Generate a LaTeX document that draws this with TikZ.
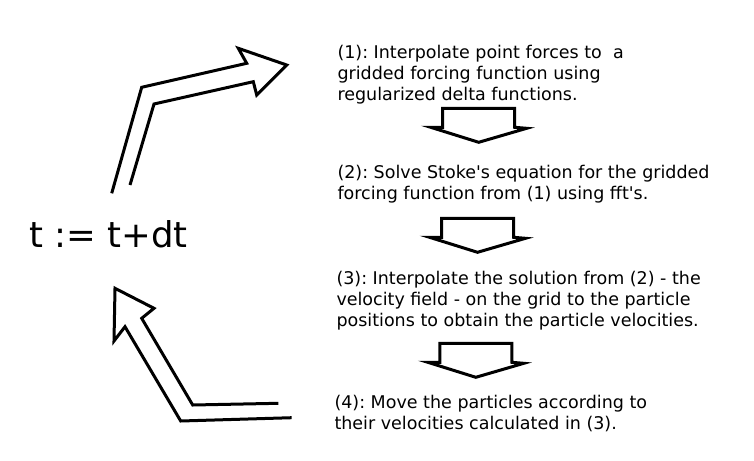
\documentclass[tikz,border=0pt]{standalone}
\usepackage{fontspec}
\setmainfont{DejaVu Sans}
\usetikzlibrary{positioning}
\frenchspacing

\begin{document}
\begin{tikzpicture}[x=1pt, y=-1pt, line width=3pt,
    stepnote/.style = {anchor=north west, inner sep=0pt, align=left, font=\fontsize{17.5}{20.8}\selectfont},
    downarrow/.pic = {\draw (-36,19) -- (-36,0) -- (36,0) -- (36,19) -- (48,20) -- (0,34) -- (-48,19) -- cycle;}]
    \useasboundingbox (0,0) rectangle (754,460);
    \node (time) [anchor=base west, inner sep=0pt, font=\fontsize{35.5}{42}\selectfont] at (28,247.3) {t := t+dt};
    \node[stepnote] (one) at (336,44) {(1): Interpolate point forces to \ a\\gridded forcing function using\\regularized delta functions.};
    \node[stepnote] (two) at (336,164) {(2): Solve Stoke\textquotesingle s equation for the gridded\\forcing function from (1) using fft\textquotesingle s.};
    \node[stepnote] (three) at (335,270) {(3): Interpolate the solution from (2) - the\\velocity field - on the grid to the particle\\positions to obtain the particle velocities.};
    \node[stepnote] (four) at (333,393.4) {(4): Move the particles according to\\their velocities calculated in (3).};
    \pic at (478.7,108.3) {downarrow};
    \pic at (477.5,218.3) {downarrow};
    \pic at (475.8,343.3) {downarrow};
    \draw (111.7,193.3) -- (141.7,87.3) -- (246.7,63.3) -- (238.3,48.3) -- (286.7,65) -- (256.7,95) -- (253.3,81.7) -- (154,104) -- (130,185);
    \draw (291.7,417.7) -- (180.7,421) -- (125,326.7) -- (114,341) -- (115,288.3) -- (154,308.3) -- (141.7,318.3) -- (192.7,405) -- (278.3,403.3);
\end{tikzpicture}
\end{document}
